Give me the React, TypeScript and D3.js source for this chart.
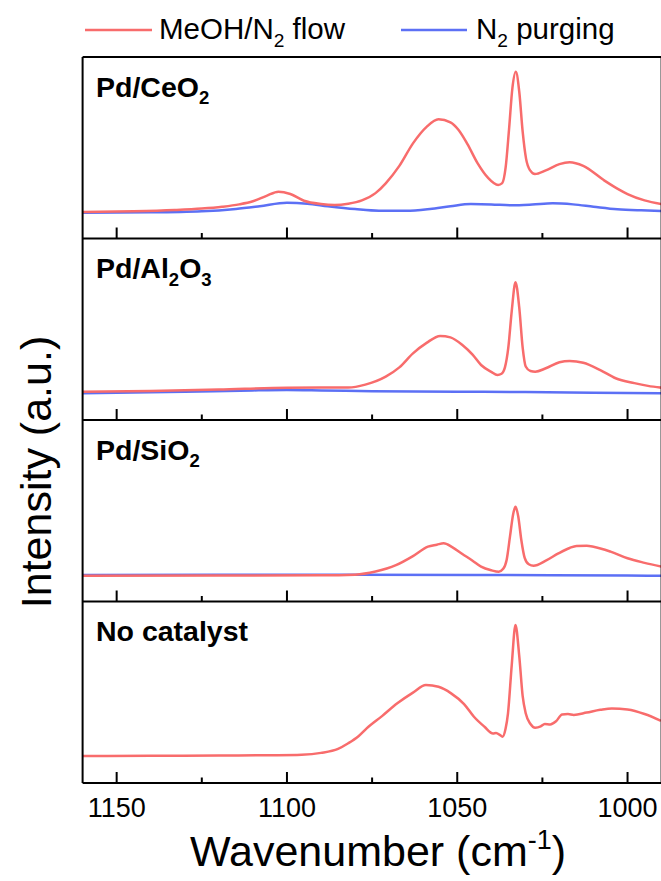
import React from "react";
import * as d3 from "d3";

type Pt = [number, number];

// x domain (wavenumber, cm-1), reversed axis
const xDomain: [number, number] = [1160, 990];
const majorTicks = [1150, 1100, 1050, 1000];
const minorTicks = [1125, 1075, 1025];

const legendLabels = [
  [["MeOH/N", false], ["2", true], [" flow", false]],
  [["N", false], ["2", true], [" purging", false]],
] as [string, boolean][][];

const panelLabels = [
  [["Pd/CeO", false], ["2", true]],
  [["Pd/Al", false], ["2", true], ["O", false], ["3", true]],
  [["Pd/SiO", false], ["2", true]],
  [["No catalyst", false]],
] as [string, boolean][][];

// intensities in arbitrary units (0-100 per panel)
const ceo2Flow: Pt[] = [
  [1160, 14.6], [1145, 15], [1133, 15.7], [1125, 16.5], [1119, 17.5], [1114, 18.8], [1110, 20.5],
  [1106, 23.5], [1102.5, 25.8], [1099, 24.5], [1095, 20.8], [1090, 19], [1086, 18.5], [1082, 19.2],
  [1078, 21], [1074, 25], [1071, 30.4], [1067, 40], [1063, 52.4], [1059, 61.5], [1055.5, 65.7],
  [1052, 64], [1049.6, 59.8], [1047, 52], [1044, 41.4], [1041, 33.5], [1038, 29.5], [1036.8, 30.5],
  [1035.8, 39], [1034.8, 60], [1033.8, 83], [1032.8, 91.9], [1031.8, 81], [1030.8, 59], [1029.8, 44],
  [1028.6, 37.5], [1027.2, 35.5], [1024, 37.5], [1020, 41], [1017, 42], [1013, 40], [1007, 32.2],
  [1003, 27.5], [1000, 24.5], [995, 21], [990, 19],
];
const ceo2Purge: Pt[] = [
  [1160, 14.2], [1140, 14.4], [1125, 15], [1115, 16.3], [1108, 17.8], [1100, 19.7], [1094, 19.2],
  [1088, 17.8], [1080, 16.2], [1073, 15.3], [1065, 15.3], [1058, 16.3], [1052, 17.8], [1046, 19],
  [1040, 18.8], [1034, 18.3], [1028, 18.7], [1022, 19.4], [1016, 18.8], [1010, 17.5], [1003, 16.1],
  [996, 15.5], [990, 15.2],
];
const al2o3Flow: Pt[] = [
  [1160, 15.6], [1140, 16], [1120, 16.8], [1100, 17.8], [1090, 17.9], [1082, 17.9], [1077, 19.5],
  [1071, 23.9], [1067, 29], [1063, 36.7], [1059, 42.5], [1055, 46.3], [1052, 45.5], [1048.5, 41.3],
  [1045.5, 36], [1043, 30.3], [1040, 26.5], [1038.2, 24.8], [1037, 25.5], [1036, 29], [1035, 40],
  [1034, 60], [1032.9, 75.9], [1031.8, 62], [1030.8, 40], [1029.9, 29.5], [1028.5, 27], [1027.1, 26.6],
  [1024, 28.5], [1020, 31.8], [1017, 32.5], [1013, 31.5], [1008, 27.5], [1003.5, 23], [998, 20.3],
  [994, 18.8], [990, 17.8],
];
const al2o3Purge: Pt[] = [
  [1160, 14.7], [1130, 15.5], [1110, 16.3], [1100, 16.5], [1090, 16.3], [1075, 15.9], [1050, 15.6],
  [1030, 15.4], [1010, 15], [990, 14.7],
];
const sio2Flow: Pt[] = [
  [1160, 14.2], [1120, 14.3], [1090, 14.4], [1080, 14.8], [1074, 16.5], [1068, 20], [1063, 25],
  [1058.6, 30.2], [1056, 31.3], [1054, 32.1], [1051.5, 30], [1048.5, 26.2], [1045.5, 22.5], [1043, 19.2],
  [1040, 17.2], [1037.8, 16.4], [1036.5, 18], [1035.5, 22.9], [1034.5, 36], [1033.6, 48], [1032.9, 52.2],
  [1032.1, 47], [1031.2, 34], [1030.2, 24], [1029, 20.5], [1027.6, 19.7], [1024, 22.5], [1020.3, 26.5],
  [1017, 29.5], [1015, 30.6], [1012, 30.7], [1010, 30.2], [1005, 27.5], [1000, 23.8], [995, 21.3],
  [990, 19.2],
];
const sio2Purge: Pt[] = [
  [1160, 14.6], [1120, 14.8], [1080, 14.8], [1040, 14.6], [1000, 14.3], [990, 14.2],
];
const noCatFlow: Pt[] = [
  [1160, 14.9], [1140, 15], [1120, 15.1], [1105, 15.3], [1095.7, 15.6], [1090, 16.6], [1085, 18.8],
  [1082, 21.9], [1079, 25.8], [1076.6, 30.1], [1072, 37], [1067.6, 43.9], [1063, 49.8], [1059.2, 54],
  [1055.5, 53], [1051.8, 49.4], [1048, 43.5], [1045.1, 36.5], [1042, 31], [1039.5, 27.3], [1038.6, 27.6],
  [1037.5, 26.5], [1036.7, 25.5], [1035.8, 30], [1035.1, 38.4], [1034, 65], [1032.9, 87.1], [1031.8, 70],
  [1030.8, 48], [1029.9, 38.4], [1028.5, 32.5], [1027.1, 30.5], [1025.5, 31.2], [1024.3, 32.5],
  [1022.7, 32.3], [1021, 34], [1019.2, 37.8], [1017.5, 38], [1015.8, 37.5], [1012, 38.8], [1008, 40.3],
  [1004.6, 41.1], [1000, 40.5], [995, 38], [990.2, 34.3],
];

const panelSeries: { flow: Pt[]; purge: Pt[] | null }[] = [
  { flow: ceo2Flow, purge: ceo2Purge },
  { flow: al2o3Flow, purge: al2o3Purge },
  { flow: sio2Flow, purge: sio2Purge },
  { flow: noCatFlow, purge: null },
];

const RED = "#f86c6c";
const BLUE = "#5c70f5";
const FONT = "'Liberation Sans', Arial, Helvetica, sans-serif";

const W = 661;
const H = 881;
const left = 82.6;
const right = 661.6;
const top = 57;
const bottom = 783;

function Rich({ parts, size, x, y, weight, anchor }: { parts: [string, boolean][]; size: number; x: number; y: number; weight?: string; anchor?: string }) {
  let shifted = false;
  return (
    <text x={x} y={y} fontSize={size} fontFamily={FONT} fontWeight={weight || "normal"} textAnchor={anchor || "start"} fill="#000">
      {parts.map(([t, sub], i) => {
        let dy = 0;
        if (sub && !shifted) { dy = size * 0.28; shifted = true; }
        else if (!sub && shifted) { dy = -size * 0.28; shifted = false; }
        return (
          <tspan key={i} dy={dy} fontSize={sub ? size * 0.65 : size}>{t}</tspan>
        );
      })}
    </text>
  );
}

export default function App() {
  const x = d3.scaleLinear().domain(xDomain).range([left, right]);
  const n = panelSeries.length;
  const ph = (bottom - top) / n;

  return (
    <svg width={W} height={H} style={{ position: "absolute", left: 0, top: 0, background: "#fff" }}>
      <rect x={0} y={0} width={W} height={H} fill="#fff" />
      {/* legend */}
      <line x1={85} x2={152} y1={30} y2={30} stroke={RED} strokeWidth={2.5} />
      <Rich parts={legendLabels[0]} size={29.5} x={159} y={39} />
      <line x1={401} x2={467} y1={30} y2={30} stroke={BLUE} strokeWidth={2.5} />
      <Rich parts={legendLabels[1]} size={29.5} x={476} y={39} />

      {panelSeries.map((p, i) => {
        const pTop = top + i * ph;
        const pBot = pTop + ph;
        const y = d3.scaleLinear().domain([0, 100]).range([pBot, pTop]);
        const line = d3.line<Pt>().x((d) => x(d[0])).y((d) => y(d[1])).curve(d3.curveMonotoneX);
        return (
          <g key={i}>
            {p.purge && <path d={line(p.purge) || ""} fill="none" stroke={BLUE} strokeWidth={2.5} />}
            <path d={line(p.flow) || ""} fill="none" stroke={RED} strokeWidth={2.5} />
            <line x1={left} x2={right} y1={pBot} y2={pBot} stroke="#000" strokeWidth={2} />
            {majorTicks.map((t) => (
              <line key={"M" + t} x1={x(t)} x2={x(t)} y1={pBot} y2={pBot - 11} stroke="#000" strokeWidth={2} />
            ))}
            {minorTicks.map((t) => (
              <line key={"m" + t} x1={x(t)} x2={x(t)} y1={pBot} y2={pBot - 5.5} stroke="#000" strokeWidth={2} />
            ))}
            <Rich parts={panelLabels[i]} size={28.5} x={96} y={pTop + 39.5} weight="bold" />
          </g>
        );
      })}
      <line x1={left} x2={right} y1={top} y2={top} stroke="#000" strokeWidth={2} />
      <line x1={left} x2={left} y1={top} y2={bottom} stroke="#000" strokeWidth={2} />
      <line x1={right} x2={right} y1={top} y2={bottom} stroke="#000" strokeWidth={2} />

      {majorTicks.map((t) => (
        <text key={"l" + t} x={x(t)} y={817} fontSize={27} fontFamily={FONT} textAnchor="middle">{t}</text>
      ))}

      <text x={190} y={866} fontSize={43} fontFamily={FONT}>
        Wavenumber (cm<tspan dy={-17} fontSize={27}>-1</tspan><tspan dy={17}>)</tspan>
      </text>
      <text transform={`translate(51, ${472}) rotate(-90)`} fontSize={43} fontFamily={FONT} textAnchor="middle">
        Intensity (a.u.)
      </text>
    </svg>
  );
}
